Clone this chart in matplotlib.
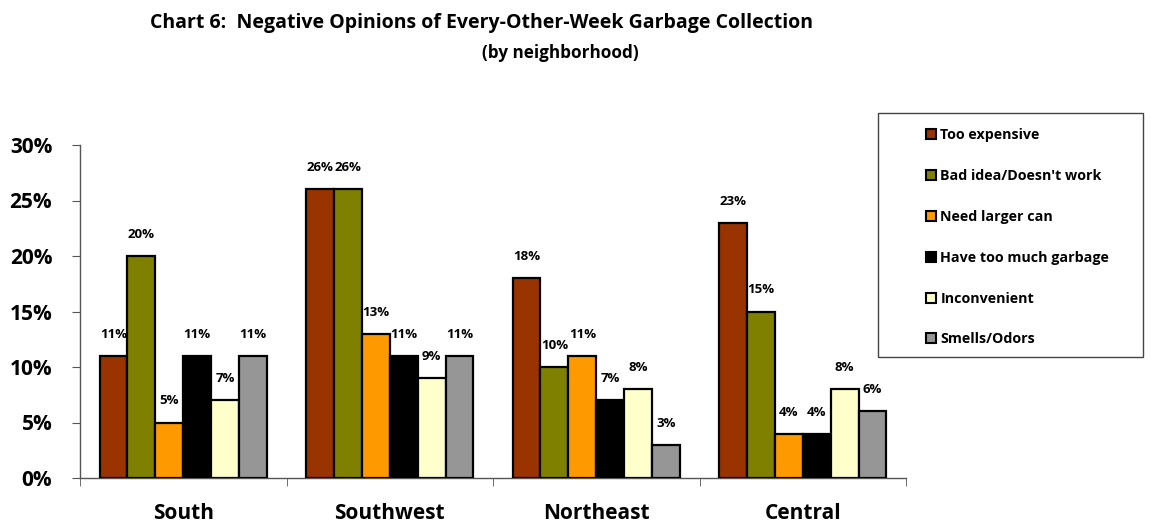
import matplotlib
matplotlib.use("Agg")
import matplotlib.pyplot as plt
import numpy as np
from matplotlib.patches import Rectangle, Patch

plt.rcParams['font.family'] = ['Open Sans', 'DejaVu Sans']
plt.rcParams['font.weight'] = 'bold'

categories = ["South", "Southwest", "Northeast", "Central"]
series_names = ["Too expensive", "Bad idea/Doesn't work", "Need larger can",
                "Have too much garbage", "Inconvenient", "Smells/Odors"]
too_expensive = [11, 26, 18, 23]
bad_idea = [20, 26, 10, 15]
need_larger_can = [5, 13, 11, 4]
too_much_garbage = [11, 11, 7, 4]
inconvenient = [7, 9, 8, 8]
smells = [11, 11, 3, 6]
series_values = [too_expensive, bad_idea, need_larger_can, too_much_garbage, inconvenient, smells]
colors = ["#993300", "#808000", "#FF9900", "#000000", "#FFFFCC", "#969696"]
yticks = [0, 5, 10, 15, 20, 25, 30]
ytick_labels = ["0%", "5%", "10%", "15%", "20%", "25%", "30%"]

W, H = 1150, 523
fig = plt.figure(figsize=(W / 100, H / 100), dpi=100)
ax = fig.add_axes([80 / W, 1 - 478 / H, (906 - 80) / W, (478 - 145) / H])

n = len(series_names)
x = np.arange(len(categories))
bw = 0.135
for i, (vals, c) in enumerate(zip(series_values, colors)):
    pos = x + (i - (n - 1) / 2) * bw
    bars = ax.bar(pos, vals, width=bw, color=c, edgecolor="black", linewidth=1.6,
                  label=series_names[i], zorder=3)
    for b, v in zip(bars, vals):
        ax.annotate(f"{v}%", (b.get_x() + b.get_width() / 2, v), xytext=(0, 15.5),
                    textcoords="offset points", ha="center", va="center",
                    fontsize=9.5, fontweight="bold", zorder=4)

ax.set_xlim(-0.5, len(categories) - 0.5)
ax.set_ylim(0, 30)
ax.set_yticks(yticks)
ax.set_yticklabels(ytick_labels, fontsize=15, fontweight="bold")
ax.set_xticks(x)
ax.set_xticklabels(categories, fontsize=15, fontweight="bold")
ax.tick_params(axis="x", length=0, pad=18)
ax.set_xticks(np.arange(len(categories) + 1) - 0.5, minor=True)
ax.tick_params(axis="x", which="minor", length=6, color="#555555")
ax.tick_params(axis="y", length=6, color="#555555", pad=14)
for s in ["top", "right"]:
    ax.spines[s].set_visible(False)
for s in ["left", "bottom"]:
    ax.spines[s].set_color("#555555")
    ax.spines[s].set_linewidth(1)
ax.set_facecolor("none")

fig.text(481 / W, 1 - 23 / H, "Chart 6:  Negative Opinions of Every-Other-Week Garbage Collection",
         ha="center", va="center", fontsize=14, fontweight="bold")
fig.text(560 / W, 1 - 53 / H, "(by neighborhood)", ha="center", va="center",
         fontsize=12.3, fontweight="bold")

# legend frame
fig.patches.append(Rectangle((878 / W, 1 - 357 / H), (1143 - 878) / W, (357 - 113) / H,
                             transform=fig.transFigure, fill=False, edgecolor="#444444",
                             linewidth=1))
handles = [Patch(facecolor=c, edgecolor="black", linewidth=1.5) for c in colors]
fig.legend(handles, series_names, loc="upper left", bbox_to_anchor=(926 / W, 1 - 128 / H),
           frameon=False, handlelength=0.7, handleheight=0.7,
           handletextpad=0.3, labelspacing=1.88, borderpad=0, borderaxespad=0,
           prop={"weight": "bold", "size": 10.3})

fig.savefig("out.png", dpi=100)
